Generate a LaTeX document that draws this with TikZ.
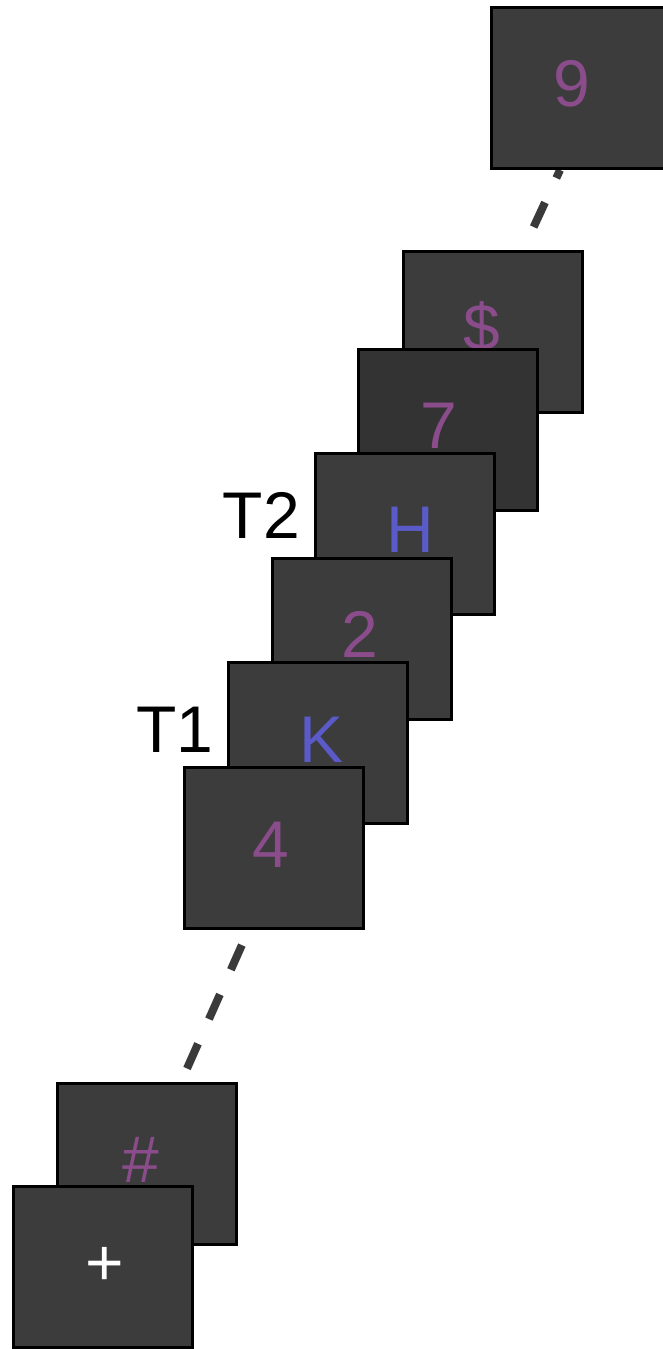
\documentclass[tikz,border=0pt]{standalone}
\usepackage{fontspec}
\setmainfont{Liberation Sans}
\definecolor{boxfill}{HTML}{3C3C3C}
\definecolor{boxdark}{HTML}{333333}
\definecolor{lettpurple}{HTML}{8B4C8B}
\definecolor{lettblue}{HTML}{5A5AC8}
\definecolor{dashgray}{HTML}{3A3A3A}
\begin{document}
\begin{tikzpicture}[x=1pt,y=-1pt,
  card/.style={draw=black,line width=3pt,fill=boxfill,minimum width=179pt,minimum height=161pt,inner sep=0pt},
  glyph/.style={anchor=base,inner sep=0pt,font=\fontsize{66}{70}\selectfont},
  lbl/.style={anchor=base,inner sep=0pt,font=\fontsize{66}{70}\selectfont,text=black},
  dashline/.style={draw=dashgray,line width=8pt,dash pattern=on 27pt off 27pt}]
\clip (0,0) rectangle (663,1349);
\fill[white] (0,0) rectangle (663,1349);
% dashed connectors
\coordinate (d1a) at (560,170);
\coordinate (d1b) at (523,250);
\coordinate (d2a) at (249,929);
\coordinate (d2b) at (181,1082);
\draw[dashline,dash phase=18.2pt] (d1a) -- (d1b);
\draw[dashline,dash phase=36.4pt] (d2a) -- (d2b);
% top card
\node[card] (c9) at (581,88) {};
\node[glyph,text=lettpurple] (t9) at (571.5,106) {9};
% stack
\node[card] (cdollar) at (492.5,331.5) {};
\node[glyph,text=lettpurple] (tdollar) at (482,350) {\$};
\node[card,fill=boxdark] (c7) at (448,429.5) {};
\node[glyph,text=lettpurple] (t7) at (438.5,448) {7};
\node[card] (cH) at (405,533.5) {};
\node[glyph,text=lettblue] (tH) at (410,552) {H};
\node[card] (c2) at (362,638.5) {};
\node[glyph,text=lettpurple] (t2) at (360,657) {2};
\node[card] (cK) at (317.5,743) {};
\node[glyph,text=lettblue] (tK) at (322,762) {K};
\node[card] (c4) at (274,848) {};
\node[glyph,text=lettpurple] (t4) at (270.5,867) {4};
% labels
\node[lbl] (T2) at (261.5,538) {T2};
\node[lbl] (T1) at (175,752) {T1};
% bottom cards
\node[card] (chash) at (146.5,1163.5) {};
\node[glyph,text=lettpurple] (thash) at (141,1182) {\#};
\node[card] (cplus) at (102.5,1266.5) {};
\node[glyph,text=white] (tplus) at (105,1285) {+};
\end{tikzpicture}
\end{document}
